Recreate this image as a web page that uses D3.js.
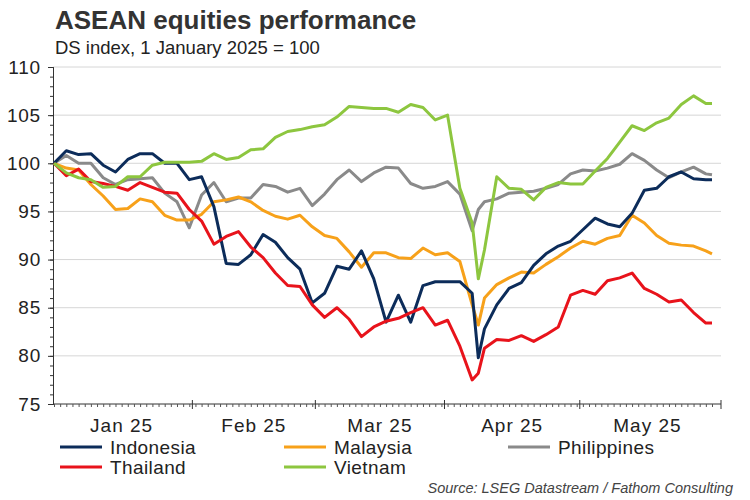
<!DOCTYPE html>
<meta charset="utf-8">
<script src="https://d3js.org/d3.v7.min.js"></script>
<style>
  body { margin: 0; background: #fff; }
  text { font-family: "Liberation Sans", Arial, sans-serif; fill: #222; }
</style>
<div id="chart"></div>
<script>

// sampled trading days (2025), every other business day plus 8 Apr and 30 May
var dates = ["01-01","01-03","01-07","01-09","01-13","01-15","01-17","01-21","01-23","01-27",
  "01-29","01-31","02-04","02-06","02-10","02-12","02-14","02-18","02-20","02-24",
  "02-26","02-28","03-04","03-06","03-10","03-12","03-14","03-18","03-20","03-24",
  "03-26","03-28","04-01","04-03","04-07","04-08","04-09","04-11","04-15","04-17",
  "04-21","04-23","04-25","04-29","05-01","05-05","05-07","05-09","05-13","05-15",
  "05-19","05-21","05-23","05-27","05-29","05-30"];

var indonesia = [100,101.3,100.9,101.0,99.8,99.1,100.4,101.0,101.0,100.0,
  100.0,98.3,98.6,95.5,89.6,89.5,90.5,92.6,91.8,90.2,
  89.0,85.5,86.5,89.3,89.0,90.9,88.0,83.5,86.3,83.5,
  87.3,87.7,87.7,87.7,86.5,79.8,82.8,85.3,87.0,87.6,
  89.4,90.6,91.4,91.9,93.1,94.3,93.7,93.4,94.8,97.2,
  97.4,98.6,99.1,98.4,98.3,98.3];

var malaysia = [100,99.5,99.3,97.8,96.6,95.2,95.3,96.3,96.0,94.6,
  94.1,94.1,94.7,96.0,96.2,96.5,96.0,95.1,94.5,94.2,
  94.6,93.4,92.5,92.2,90.8,89.2,90.7,90.7,90.2,90.1,
  91.2,90.5,90.7,89.8,85.3,83.2,86.0,87.4,88.1,88.7,
  88.6,89.5,90.3,91.2,91.9,91.6,92.2,92.5,94.6,93.8,
  92.5,91.7,91.5,91.4,90.9,90.6];

var philippines = [100,100.8,100.0,100.0,98.5,97.8,98.3,98.4,98.5,96.9,
  96.0,93.3,96.7,98.0,96.0,96.4,96.4,97.8,97.6,97.0,
  97.4,95.6,96.8,98.3,99.3,98.1,99.0,99.6,99.5,97.9,
  97.4,97.6,98.1,96.8,93.0,95.2,96.0,96.3,96.9,97.0,
  97.1,97.4,97.8,98.9,99.3,99.2,99.5,99.9,101.0,100.3,
  99.3,98.5,99.1,99.6,98.9,98.8];

var thailand = [100,98.7,99.4,98.1,97.9,97.6,97.2,98.0,97.5,97.0,
  96.9,95.2,94.0,91.6,92.4,92.9,91.3,90.2,88.6,87.3,
  87.2,85.3,84.0,85.0,83.8,82.0,83.0,83.6,83.9,84.5,
  85.0,83.2,83.7,81.0,77.5,78.2,80.8,81.7,81.6,82.1,
  81.5,82.2,83.0,86.3,86.8,86.4,87.8,88.1,88.6,87.0,
  86.4,85.6,85.8,84.5,83.4,83.4];

var vietnam = [100,99.0,98.5,98.3,97.5,97.6,98.6,98.6,99.8,100.1,
  100.1,100.1,100.2,101.0,100.4,100.6,101.4,101.5,102.7,103.3,
  103.5,103.8,104.0,104.8,105.9,105.8,105.7,105.7,105.3,106.1,
  105.8,104.5,105.0,97.4,93.8,88.0,91.0,98.6,97.4,97.3,
  96.2,97.5,98.0,97.85,97.85,99.2,100.5,102.2,103.9,103.4,
  104.2,104.7,106.1,107.0,106.2,106.2];

var seriesNames = ["Indonesia","Malaysia","Philippines","Thailand","Vietnam"];
var seriesColors = ["#0c2c5a","#f7a11a","#8a8a8a","#e8131b","#8dc63f"];
var seriesValues = [indonesia, malaysia, philippines, thailand, vietnam];
var monthLabels = ["Jan 25","Feb 25","Mar 25","Apr 25","May 25"];
var yTicks = [75,80,85,90,95,100,105,110];

var W = 750, H = 500;
var svg = d3.select("#chart").append("svg")
  .attr("width", W).attr("height", H);

// business-day category axis, 1 Jan to 30 May 2025
var fmt = d3.timeFormat("%m-%d");
var days = d3.timeDay.range(new Date(2025,0,1), new Date(2025,4,31))
  .filter(function(d){ return d.getDay() !== 0 && d.getDay() !== 6; });
var dayKeys = days.map(fmt);

var x = d3.scalePoint().domain(dayKeys).range([54, 712]);
var y = d3.scaleLinear().domain([75, 110]).range([404, 67]);
var step = x.step();

// gridlines
svg.append("g")
  .selectAll("line")
  .data(yTicks.filter(function(v){ return v > 75; }))
  .join("line")
  .attr("x1", 53).attr("x2", 721)
  .attr("y1", function(d){ return y(d); })
  .attr("y2", function(d){ return y(d); })
  .attr("stroke", "#d6d6d6").attr("stroke-width", 1);

// y axis: major + minor ticks
var yMinor = svg.append("g").attr("transform", "translate(53,0)")
  .call(d3.axisLeft(y).tickValues(d3.range(75, 111, 1)).tickSize(3).tickFormat(""));
var yMajor = svg.append("g").attr("transform", "translate(53,0)")
  .call(d3.axisLeft(y).tickValues(yTicks).tickSize(5).tickPadding(7).tickFormat(d3.format("d")));
[yMinor, yMajor].forEach(function(g){
  g.select(".domain").attr("stroke", "#333");
  g.selectAll(".tick line").attr("stroke", "#333");
});
yMajor.selectAll(".tick text")
  .style("font-family", "Liberation Sans, Arial, sans-serif")
  .style("font-size", "19px").style("letter-spacing", "0.8px")
  .attr("fill", "#222");

// x axis: a tick for every trading day
var xAxis = svg.append("g").attr("transform", "translate(0,404)")
  .call(d3.axisBottom(x).tickSize(3).tickSizeOuter(0).tickFormat(""));
xAxis.select(".domain").attr("d", "M53,0H721").attr("stroke", "#333");
xAxis.selectAll(".tick line").attr("stroke", "#555");

// month boundaries and month labels
var months = d3.groups(days, function(d){ return d.getMonth(); });
months.forEach(function(m, i){
  var first = x(fmt(m[1][0])), last = x(fmt(m[1][m[1].length - 1]));
  if (i > 0) {
    svg.append("line")
      .attr("x1", first - step / 2).attr("x2", first - step / 2)
      .attr("y1", 400).attr("y2", 409)
      .attr("stroke", "#333");
  }
  svg.append("text")
    .attr("x", (first + last) / 2).attr("y", 432)
    .attr("text-anchor", "middle")
    .style("font-size", "19px").style("letter-spacing", "1px")
    .text(monthLabels[i]);
});
svg.append("line").attr("x1", 721).attr("x2", 721).attr("y1", 400).attr("y2", 409).attr("stroke", "#333");

// lines
var line = d3.line()
  .x(function(d){ return x(d[0]); })
  .y(function(d){ return y(d[1]); });

[2, 1, 0, 3, 4].forEach(function(s){
  var pts = dates.map(function(dk, i){ return [dk, seriesValues[s][i]]; });
  svg.append("path")
    .datum(pts)
    .attr("fill", "none")
    .attr("stroke", seriesColors[s])
    .attr("stroke-width", 3)
    .attr("stroke-linejoin", "round")
    .attr("d", line);
});

// title
svg.append("text").attr("x", 55).attr("y", 29)
  .style("font-size", "26px").style("font-weight", "bold")
  .style("fill", "#333")
  .text("ASEAN equities performance");
svg.append("text").attr("x", 55).attr("y", 54)
  .style("font-size", "18.5px")
  .text("DS index, 1 January 2025 = 100");

// legend
var legendPos = [[60,447],[284,447],[508,447],[60,467],[284,467]];
seriesNames.forEach(function(n, i){
  var p = legendPos[i];
  svg.append("line")
    .attr("x1", p[0]).attr("x2", p[0] + 42)
    .attr("y1", p[1]).attr("y2", p[1])
    .attr("stroke", seriesColors[i]).attr("stroke-width", 3);
  svg.append("text")
    .attr("x", p[0] + 50).attr("y", p[1] + 6.5)
    .style("font-size", "19px").style("letter-spacing", "0.4px")
    .text(n);
});

svg.append("text").attr("x", 733).attr("y", 493)
  .attr("text-anchor", "end")
  .style("font-size", "14.5px").style("font-style", "italic")
  .style("fill", "#444")
  .text("Source: LSEG Datastream / Fathom Consulting");

</script>
